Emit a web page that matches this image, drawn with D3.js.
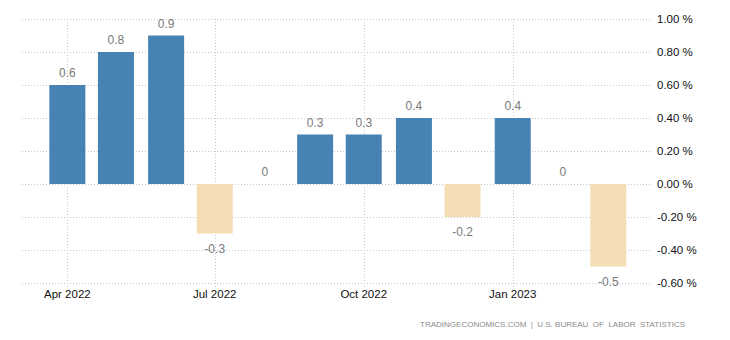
<!DOCTYPE html>
<html>
<head>
<meta charset="utf-8">
<script src="https://cdn.jsdelivr.net/npm/d3@7"></script>
<style>
  body { margin: 0; background: #fff; }
  svg text { font-family: "Liberation Sans", Arial, sans-serif; }
</style>
</head>
<body>
<div id="chart"></div>
<script>
// monthly CPI change, Apr 2022 - Mar 2023
const months = ['2022-04-01', '2022-05-01', '2022-06-01', '2022-07-01', '2022-08-01', '2022-09-01',
                '2022-10-01', '2022-11-01', '2022-12-01', '2023-01-01', '2023-02-01', '2023-03-01'];
const values = [0.6, 0.8, 0.9, -0.3, 0, 0.3, 0.3, 0.4, -0.2, 0.4, 0, -0.5];
const xTickMonths = ['2022-04-01', '2022-07-01', '2022-10-01', '2023-01-01'];
const xTickLabels = ['Apr 2022', 'Jul 2022', 'Oct 2022', 'Jan 2023'];
const yTicks = [1.0, 0.8, 0.6, 0.4, 0.2, 0, -0.2, -0.4, -0.6];
const source = 'TRADINGECONOMICS.COM  |  U.S. BUREAU  OF  LABOR  STATISTICS';

const width = 730, height = 340;
const plot = { left: 22, right: 652, top: 19, bottom: 283 };
const barWidth = 36;

const parse = d3.utcParse('%Y-%m-%d');

const svg = d3.select('#chart').append('svg')
  .attr('width', width)
  .attr('height', height);

const x = d3.scaleUtc()
  .domain([parse('2022-03-04'), parse('2023-03-28')])
  .range([plot.left, plot.right]);

const y = d3.scaleLinear()
  .domain([-0.6, 1.0])
  .range([plot.bottom, plot.top]);

const data = months.map((m, i) => ({ date: parse(m), v: values[i] }));

// horizontal grid
svg.append('g')
  .selectAll('line')
  .data(yTicks)
  .enter().append('line')
  .attr('x1', plot.left)
  .attr('x2', plot.right)
  .attr('y1', d => Math.round(y(d)) + 0.5)
  .attr('y2', d => Math.round(y(d)) + 0.5)
  .attr('stroke', '#c8c8c8')
  .attr('stroke-dasharray', '1,2');

// vertical grid at quarter months
svg.append('g')
  .selectAll('line')
  .data(xTickMonths)
  .enter().append('line')
  .attr('x1', d => Math.round(x(parse(d))) + 0.5)
  .attr('x2', d => Math.round(x(parse(d))) + 0.5)
  .attr('y1', plot.top)
  .attr('y2', plot.bottom + 4)
  .attr('stroke', '#c8c8c8')
  .attr('stroke-dasharray', '1,2');

// bars
svg.append('g')
  .selectAll('rect')
  .data(data)
  .enter().append('rect')
  .attr('x', d => x(d.date) - barWidth / 2)
  .attr('width', barWidth)
  .attr('y', d => y(Math.max(0, d.v)))
  .attr('height', d => Math.abs(y(d.v) - y(0)))
  .attr('fill', d => d.v < 0 ? '#f3deb5' : '#4682b4');

// value labels
svg.append('g')
  .selectAll('text')
  .data(data)
  .enter().append('text')
  .attr('x', d => x(d.date))
  .attr('y', d => d.v < 0 ? y(d.v) + 19 : y(d.v) - 8)
  .attr('text-anchor', 'middle')
  .attr('font-size', 12)
  .attr('fill', '#7a7a7a')
  .text(d => String(d.v));

// y labels on the right
svg.append('g')
  .selectAll('text')
  .data(yTicks)
  .enter().append('text')
  .attr('x', plot.right + 5)
  .attr('y', d => y(d))
  .attr('dy', '0.35em')
  .attr('font-size', 11.5)
  .attr('fill', '#111')
  .text(d => d.toFixed(2) + ' %');

// x labels
svg.append('g')
  .selectAll('text')
  .data(xTickMonths)
  .enter().append('text')
  .attr('x', d => x(parse(d)))
  .attr('y', 298)
  .attr('text-anchor', 'middle')
  .attr('font-size', 11.5)
  .attr('fill', '#111')
  .text((d, i) => xTickLabels[i]);

// source line
svg.append('text')
  .attr('x', 685)
  .attr('y', 327)
  .attr('text-anchor', 'end')
  .attr('font-size', 8)
  .attr('fill', '#8a8a8a')
  .style('white-space', 'pre')
  .text(source);
</script>
</body>
</html>
